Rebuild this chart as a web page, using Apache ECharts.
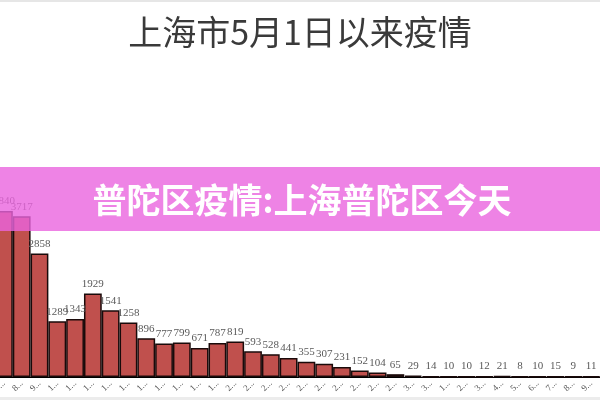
<!DOCTYPE html>
<html>
<head>
<meta charset="utf-8">
<script src="https://cdn.jsdelivr.net/npm/echarts@6/dist/echarts.min.js"></script>
<style>html,body{margin:0;padding:0;background:#fff;}#c{width:600px;height:400px;}</style>
</head>
<body>
<div id="c"></div>
<script>
var titleText = '上海市5月1日以来疫情';
var bannerText = '普陀区疫情:上海普陀区今天';
var categories = ['7-May','8-May','9-May','10-May','11-May','12-May','13-May','14-May','15-May','16-May','17-May','18-May','19-May','20-May','21-May','22-May','23-May','24-May','25-May','26-May','27-May','28-May','29-May','30-May','31-May','1-Jun','2-Jun','3-Jun','4-Jun','5-Jun','6-Jun','7-Jun','8-Jun','9-Jun'];
var cases = [3840,3717,2858,1289,1343,1929,1541,1258,896,777,799,671,787,819,593,528,441,355,307,231,152,104,65,29,14,10,10,12,21,8,10,15,9,11];

var chart = echarts.init(document.getElementById('c'));
chart.setOption({
  animation: false,
  backgroundColor: '#fff',
  title: {
    text: titleText, left: 'center', top: 10,
    textStyle: {fontSize: 34, fontWeight: 'normal', color: '#3a3a3a', fontFamily: 'Noto Sans CJK SC'}
  },
  grid: {left: -5, right: 0, top: 204, bottom: 23, containLabel: false, outerBoundsMode: 'none'},
  xAxis: {
    type: 'category', data: categories,
    axisTick: {show: false},
    axisLine: {show: true, lineStyle: {color: '#000', width: 1}},
    axisLabel: {
      interval: 0, rotate: 45, margin: 5, fontSize: 9, color: '#595959',
      fontFamily: 'Liberation Serif', width: 13, overflow: 'truncate', ellipsis: '...'
    }
  },
  yAxis: {type: 'value', min: 0, max: 4000, show: false, splitLine: {show: false}},
  series: [{
    type: 'bar', data: cases, barCategoryGap: '0%',
    itemStyle: {color: '#c0504d', borderColor: '#1a0a0a', borderWidth: 1.5},
    label: {show: true, position: 'top', distance: 4, fontSize: 11, color: '#595959', fontFamily: 'Liberation Serif'}
  }],
  graphic: [
    {type: 'rect', shape: {x: 0, y: 0, width: 600, height: 2}, style: {fill: '#e6e6e6'}, z: 50},
    {type: 'rect', shape: {x: 0, y: 397, width: 600, height: 3}, style: {fill: '#ececec'}, z: 50},
    {type: 'rect', shape: {x: 0, y: 167, width: 600, height: 64}, style: {fill: 'rgba(234,100,222,0.8)'}, z: 100},
    {type: 'text', x: 302, y: 200, z: 101,
     style: {text: bannerText, fill: '#fff', fontSize: 34, fontWeight: 'bold', fontFamily: 'Noto Sans CJK SC', textAlign: 'center', textVerticalAlign: 'middle'}}
  ]
});
</script>
</body>
</html>
